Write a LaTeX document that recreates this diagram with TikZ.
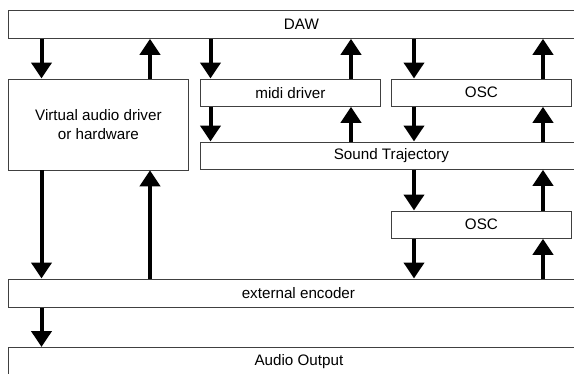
\documentclass[tikz,border=0pt]{standalone}
\usepackage{fontspec}
\setmainfont{Liberation Sans}
\usetikzlibrary{arrows.meta}
\begin{document}
\begin{tikzpicture}[x=1pt,y=-1pt,
  box/.style={draw=black!75, line width=0.8pt, fill=white, anchor=north west, inner sep=0pt,
    font=\fontsize{15.2}{19}\selectfont, align=center},
  arr/.style={line width=4pt, -{Triangle[width=20pt,length=16pt]}}]
\useasboundingbox (0,0) rectangle (574,373);
\clip (0,0) rectangle (574,373);
\fill[white] (0,0) rectangle (574,373);
\node[box, minimum width=586pt, minimum height=28pt] (daw) at (8,10) {DAW};
\node[box, minimum width=180pt, minimum height=91pt] (virt) at (8,78.5) {Virtual audio driver\\or hardware};
\node[box, minimum width=180pt, minimum height=27.5pt] (midi) at (200,78.5) {midi driver};
\node[box, minimum width=180pt, minimum height=27.5pt] (osc1) at (391,78.5) {OSC};
\node[box, minimum width=382pt, minimum height=27.5pt] (traj) at (200,141.5) {Sound Trajectory};
\node[box, minimum width=180pt, minimum height=27.5pt] (osc2) at (391,210.5) {OSC};
\node[box, minimum width=580pt, minimum height=28.5pt] (enc) at (8,278.5) {external encoder};
\node[box, minimum width=581pt, minimum height=28pt] (out) at (8,347) {Audio Output};
\coordinate (cA) at (41.5,0);
\coordinate (cB) at (150,0);
\coordinate (cC) at (210.5,0);
\coordinate (cD) at (351,0);
\coordinate (cE) at (414,0);
\coordinate (cF) at (543,0);
% DAW <-> row 1
\draw[arr] (daw.south -| cA) -- (virt.north -| cA);
\draw[arr] (virt.north -| cB) -- (daw.south -| cB);
\draw[arr] (daw.south -| cC) -- (midi.north -| cC);
\draw[arr] (midi.north -| cD) -- (daw.south -| cD);
\draw[arr] (daw.south -| cE) -- (osc1.north -| cE);
\draw[arr] (osc1.north -| cF) -- (daw.south -| cF);
% row 1 <-> Sound Trajectory
\draw[arr] (midi.south -| cC) -- (traj.north -| cC);
\draw[arr] (traj.north -| cD) -- (midi.south -| cD);
\draw[arr] (osc1.south -| cE) -- (traj.north -| cE);
\draw[arr] (traj.north -| cF) -- (osc1.south -| cF);
% Sound Trajectory <-> OSC 2
\draw[arr] (traj.south -| cE) -- (osc2.north -| cE);
\draw[arr] (osc2.north -| cF) -- (traj.south -| cF);
% to encoder
\draw[arr] (virt.south -| cA) -- (enc.north -| cA);
\draw[arr] (enc.north -| cB) -- (virt.south -| cB);
\draw[arr] (osc2.south -| cE) -- (enc.north -| cE);
\draw[arr] (enc.north -| cF) -- (osc2.south -| cF);
% to output
\draw[arr] (enc.south -| cA) -- (out.north -| cA);
\end{tikzpicture}
\end{document}
